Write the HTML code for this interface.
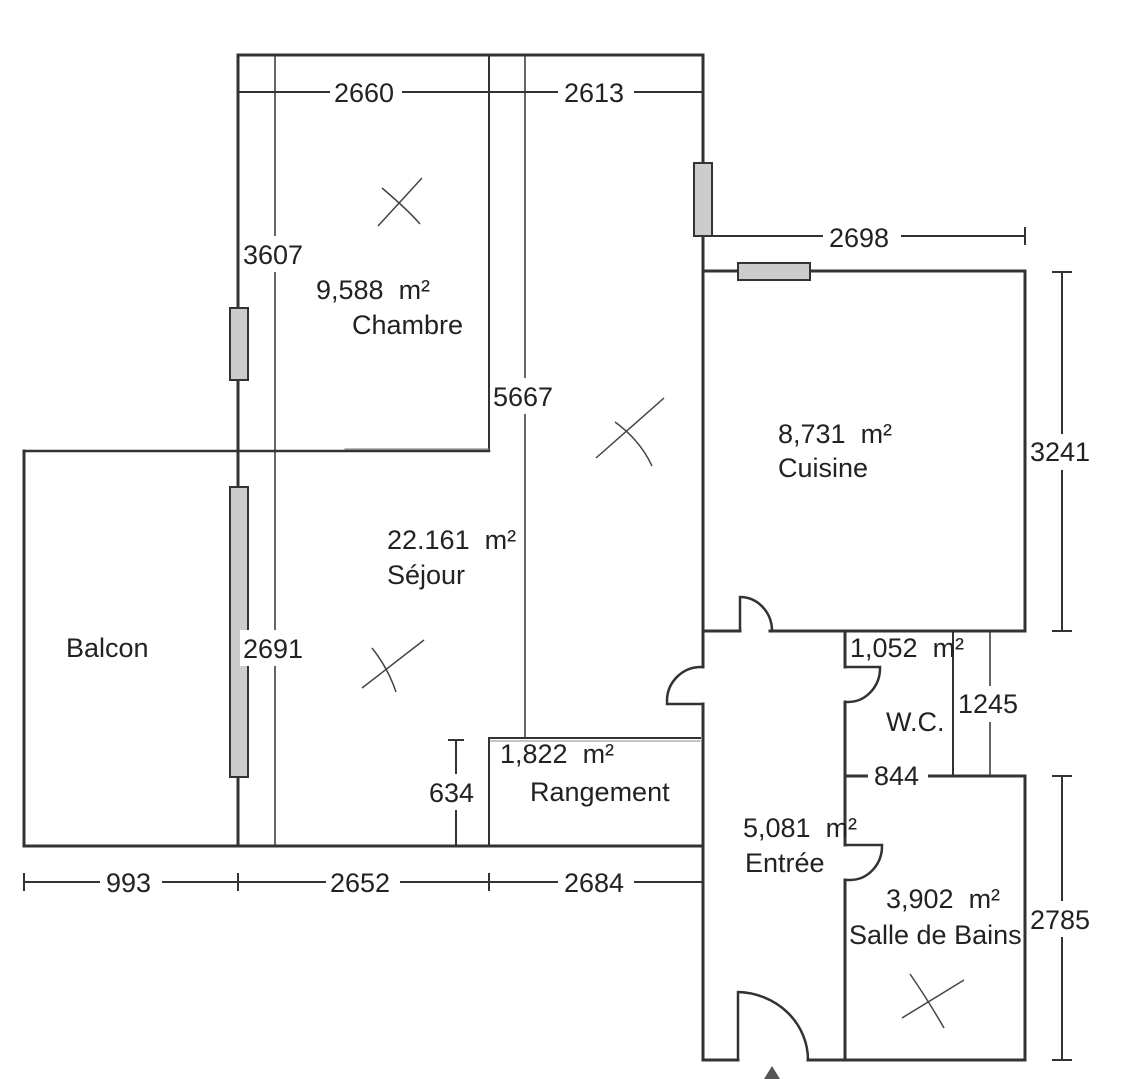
<!DOCTYPE html>
<html><head><meta charset="utf-8"><style>
html,body{margin:0;padding:0;background:#fff;}
svg{display:block;}
text{font-family:"Liberation Sans",sans-serif;font-size:27px;fill:#222;}
</style></head><body>
<svg width="1124" height="1079" viewBox="0 0 1124 1079" xmlns="http://www.w3.org/2000/svg">
<g stroke="#333" fill="none" stroke-linecap="square">
<path d="M238 55 H703" stroke-width="3"/>
<path d="M238 55 V846" stroke-width="3"/>
<path d="M275 55 V846" stroke-width="1.5"/>
<path d="M489 55 V451" stroke-width="2"/>
<path d="M24 451 H489" stroke-width="2.5"/>
<path d="M345 449 H489" stroke-width="1" stroke="#777"/>
<path d="M525 55 V738" stroke-width="1.5"/>
<path d="M703 55 V667 M703 704 V1060" stroke-width="3"/>
<path d="M24 451 V846 H703" stroke-width="3"/>
<path d="M489 738 H700" stroke-width="2"/>
<path d="M489 741 H700" stroke-width="1" stroke="#888"/>
<path d="M489 738 V846" stroke-width="2"/>
<path d="M456 740 V846 M449 740 H463" stroke-width="2"/>
<path d="M238 92 H703" stroke-width="2"/>
<path d="M24 882 H703 M24 874 V890 M238 874 V890 M489 874 V890" stroke-width="2"/>
<path d="M703 236 H1025 M1025 228 V244" stroke-width="2"/>
<path d="M703 271 H1025 V631 H770 M740 631 H703" stroke-width="3"/>
<path d="M740 631 V597 A32 34 0 0 1 772 631" stroke-width="2.5"/>
<path d="M1062 272 V631 M1053 272 H1071 M1053 631 H1071" stroke-width="2"/>
<path d="M703 667 H700 A34 34 0 0 0 667 700 V704 H703" stroke-width="2.5"/>
<path d="M845 631 V667 M845 702 V845 M845 880 V1060" stroke-width="3"/>
<path d="M845 667 H880 A32 34 0 0 1 848 702 H845" stroke-width="2.5"/>
<path d="M845 845 H882 A32 34 0 0 1 850 880 H845" stroke-width="2.5"/>
<path d="M953 631 V776" stroke-width="2"/>
<path d="M990 631 V776" stroke-width="1.5"/>
<path d="M845 776 H1025 V1060 H808 M738 1060 H703" stroke-width="3"/>
<path d="M738 1060 V992 A72 68 0 0 1 808 1060" stroke-width="2.5"/>
<path d="M1062 776 V1060 M1053 776 H1071 M1053 1060 H1071" stroke-width="2"/>
</g>
<g fill="#ccc" stroke="#333" stroke-width="2">
<rect x="694" y="163" width="18" height="73"/>
<rect x="738" y="263" width="72" height="17"/>
<rect x="230" y="308" width="18" height="72"/>
<rect x="230" y="487" width="18" height="290"/>
</g>
<g fill="#fff">
<rect x="330" y="76" width="72" height="32"/>
<rect x="558" y="76" width="76" height="32"/>
<rect x="823" y="220" width="78" height="32"/>
<rect x="240" y="236" width="72" height="36"/>
<rect x="491" y="378" width="70" height="36"/>
<rect x="240" y="630" width="70" height="36"/>
<rect x="426" y="774" width="54" height="36"/>
<rect x="100" y="866" width="62" height="32"/>
<rect x="326" y="866" width="74" height="32"/>
<rect x="558" y="866" width="76" height="32"/>
<rect x="1029" y="434" width="64" height="36"/>
<rect x="956" y="686" width="70" height="36"/>
<rect x="868" y="760" width="60" height="32"/>
<rect x="1028" y="901" width="68" height="36"/>
</g>
<g stroke="#444" stroke-width="1.5" fill="none">
<path d="M378 226 L422 178 M382 188 Q408 210 420 224"/>
<path d="M596 458 L664 398 M615 422 Q640 440 652 466"/>
<path d="M362 688 L424 640 M372 648 Q388 668 396 692"/>
<path d="M902 1018 L964 980 M910 974 Q928 1000 944 1028"/>
</g>
<text x="334" y="102">2660</text>
<text x="564" y="102">2613</text>
<text x="829" y="247">2698</text>
<text x="243" y="264">3607</text>
<text x="316" y="299">9,588&#160; m²</text>
<text x="352" y="334">Chambre</text>
<text x="493" y="406">5667</text>
<text x="778" y="443">8,731&#160; m²</text>
<text x="778" y="477">Cuisine</text>
<text x="1030" y="461">3241</text>
<text x="387" y="549">22.161&#160; m²</text>
<text x="387" y="584">Séjour</text>
<text x="66" y="657">Balcon</text>
<text x="243" y="658">2691</text>
<text x="850" y="657">1,052&#160; m²</text>
<text x="958" y="713">1245</text>
<text x="886" y="731">W.C.</text>
<text x="500" y="763">1,822&#160; m²</text>
<text x="530" y="801">Rangement</text>
<text x="429" y="802">634</text>
<text x="874" y="785">844</text>
<text x="743" y="837">5,081&#160; m²</text>
<text x="745" y="872">Entrée</text>
<text x="106" y="892">993</text>
<text x="330" y="892">2652</text>
<text x="564" y="892">2684</text>
<text x="886" y="908">3,902&#160; m²</text>
<text x="849" y="944">Salle de Bains</text>
<text x="1030" y="929">2785</text>
<path d="M764 1079 L772 1066 L780 1079 Z" fill="#555"/>
</svg>
</body></html>
